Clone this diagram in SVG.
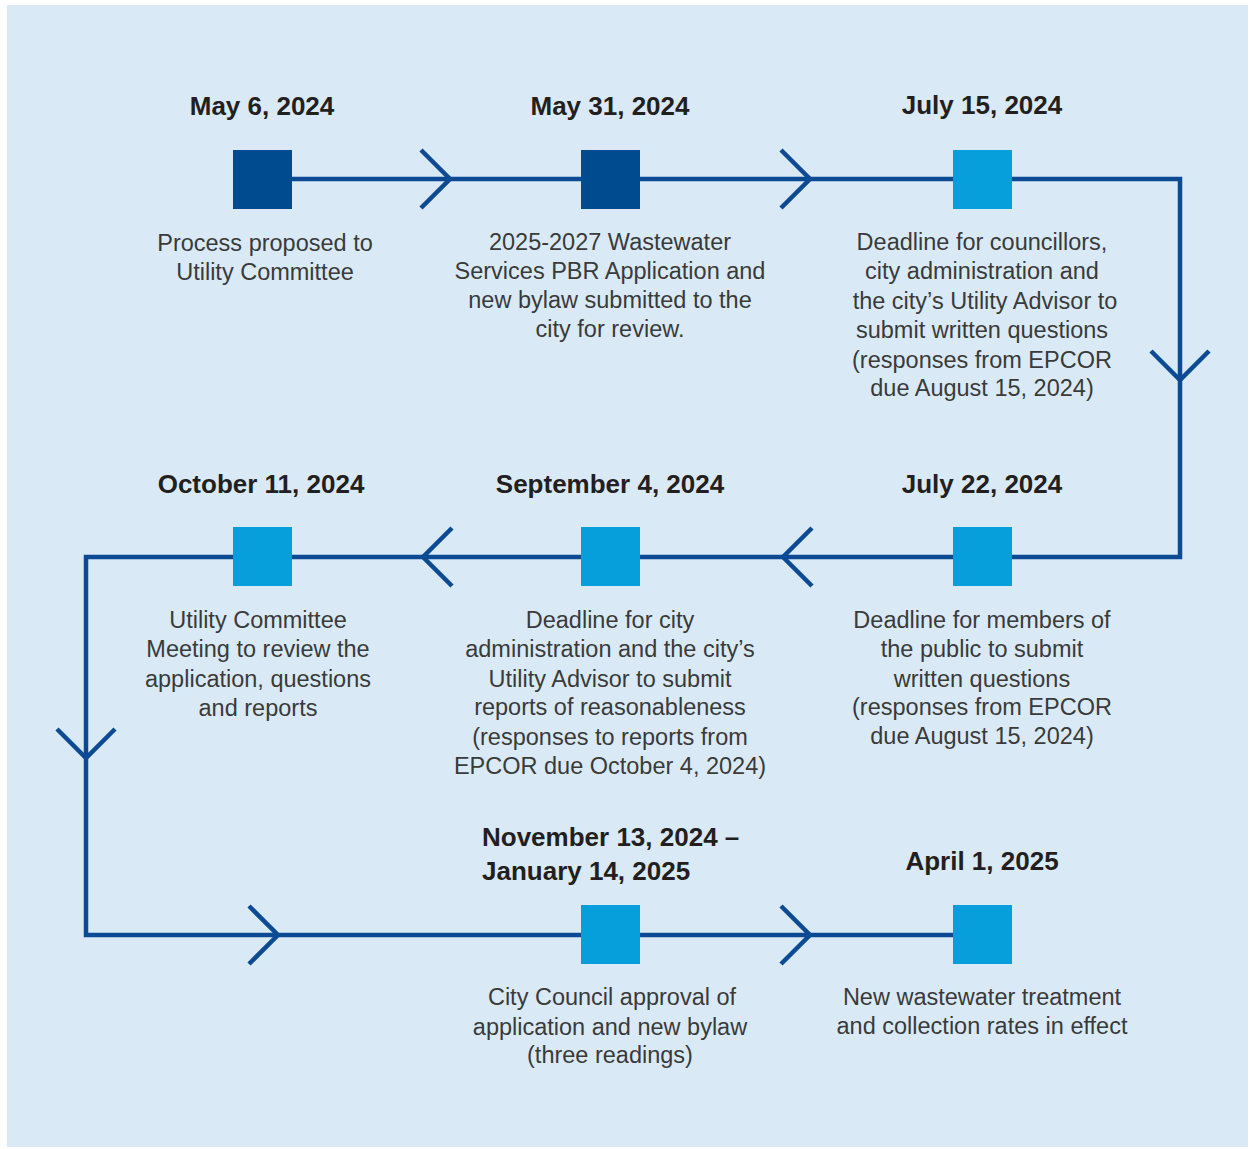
<svg xmlns="http://www.w3.org/2000/svg" width="1253" height="1149" viewBox="0 0 1253 1149">
<style>
.t{font-family:"Liberation Sans",Arial,sans-serif;font-weight:bold;font-size:26px;fill:#231f20;text-anchor:middle}
.d{font-family:"Liberation Sans",Arial,sans-serif;font-size:23.5px;fill:#3a3a3a;text-anchor:middle}
.dk{fill:#004a8f}
.lt{fill:#079fdb}
.ln{fill:none;stroke:#0d4a94;stroke-width:4.5}
</style>
<rect x="0" y="0" width="1253" height="1149" fill="#ffffff"/>
<rect x="7" y="5" width="1241" height="1142" fill="#d9eaf6"/>
<g id="connectors">
<path class="ln" d="M262 179 H1180 V557 H86 V935 H982"/>
<polyline class="ln" points="421,150 450,179 421,208"/>
<polyline class="ln" points="781,150 810,179 781,208"/>
<polyline class="ln" points="1151,351 1180,380 1209,351"/>
<polyline class="ln" points="812,528 783,557 812,586"/>
<polyline class="ln" points="452,528 423,557 452,586"/>
<polyline class="ln" points="57,729 86,758 115,729"/>
<polyline class="ln" points="249,906 278,935 249,964"/>
<polyline class="ln" points="781,906 810,935 781,964"/>
</g>
<g id="node1">
<rect class="dk" x="233" y="150" width="59" height="59"/>
<text class="t" x="262" y="115">May 6, 2024</text>
<text class="d" x="265" y="251">Process proposed to</text>
<text class="d" x="265" y="280">Utility Committee</text>
</g>
<g id="node2">
<rect class="dk" x="581" y="150" width="59" height="59"/>
<text class="t" x="610" y="115">May 31, 2024</text>
<text class="d" x="610" y="250">2025-2027 Wastewater</text>
<text class="d" x="610" y="279">Services PBR Application and</text>
<text class="d" x="610" y="308">new bylaw submitted to the</text>
<text class="d" x="610" y="337">city for review.</text>
</g>
<g id="node3">
<rect class="lt" x="953" y="150" width="59" height="59"/>
<text class="t" x="982" y="114">July 15, 2024</text>
<text class="d" x="982" y="250">Deadline for councillors,</text>
<text class="d" x="982" y="279">city administration and</text>
<text class="d" x="985" y="309">the city’s Utility Advisor to</text>
<text class="d" x="982" y="338">submit written questions</text>
<text class="d" x="982" y="368">(responses from EPCOR</text>
<text class="d" x="982" y="396">due August 15, 2024)</text>
</g>
<g id="node4">
<rect class="lt" x="953" y="527" width="59" height="59"/>
<text class="t" x="982" y="493">July 22, 2024</text>
<text class="d" x="982" y="628">Deadline for members of</text>
<text class="d" x="982" y="657">the public to submit</text>
<text class="d" x="982" y="687">written questions</text>
<text class="d" x="982" y="715">(responses from EPCOR</text>
<text class="d" x="982" y="744">due August 15, 2024)</text>
</g>
<g id="node5">
<rect class="lt" x="581" y="527" width="59" height="59"/>
<text class="t" x="610" y="493">September 4, 2024</text>
<text class="d" x="610" y="628">Deadline for city</text>
<text class="d" x="610" y="657">administration and the city’s</text>
<text class="d" x="610" y="687">Utility Advisor to submit</text>
<text class="d" x="610" y="715">reports of reasonableness</text>
<text class="d" x="610" y="745">(responses to reports from</text>
<text class="d" x="610" y="774">EPCOR due October 4, 2024)</text>
</g>
<g id="node6">
<rect class="lt" x="233" y="527" width="59" height="59"/>
<text class="t" x="261" y="493">October 11, 2024</text>
<text class="d" x="258" y="628">Utility Committee</text>
<text class="d" x="258" y="657">Meeting to review the</text>
<text class="d" x="258" y="687">application, questions</text>
<text class="d" x="258" y="716">and reports</text>
</g>
<g id="node7">
<rect class="lt" x="581" y="905" width="59" height="59"/>
<text class="t" x="482" y="846" style="text-anchor:start">November 13, 2024 –</text>
<text class="t" x="482" y="880" style="text-anchor:start">January 14, 2025</text>
<text class="d" x="612" y="1005">City Council approval of</text>
<text class="d" x="610" y="1035">application and new bylaw</text>
<text class="d" x="610" y="1063">(three readings)</text>
</g>
<g id="node8">
<rect class="lt" x="953" y="905" width="59" height="59"/>
<text class="t" x="982" y="870">April 1, 2025</text>
<text class="d" x="982" y="1005">New wastewater treatment</text>
<text class="d" x="982" y="1034">and collection rates in effect</text>
</g>
</svg>
